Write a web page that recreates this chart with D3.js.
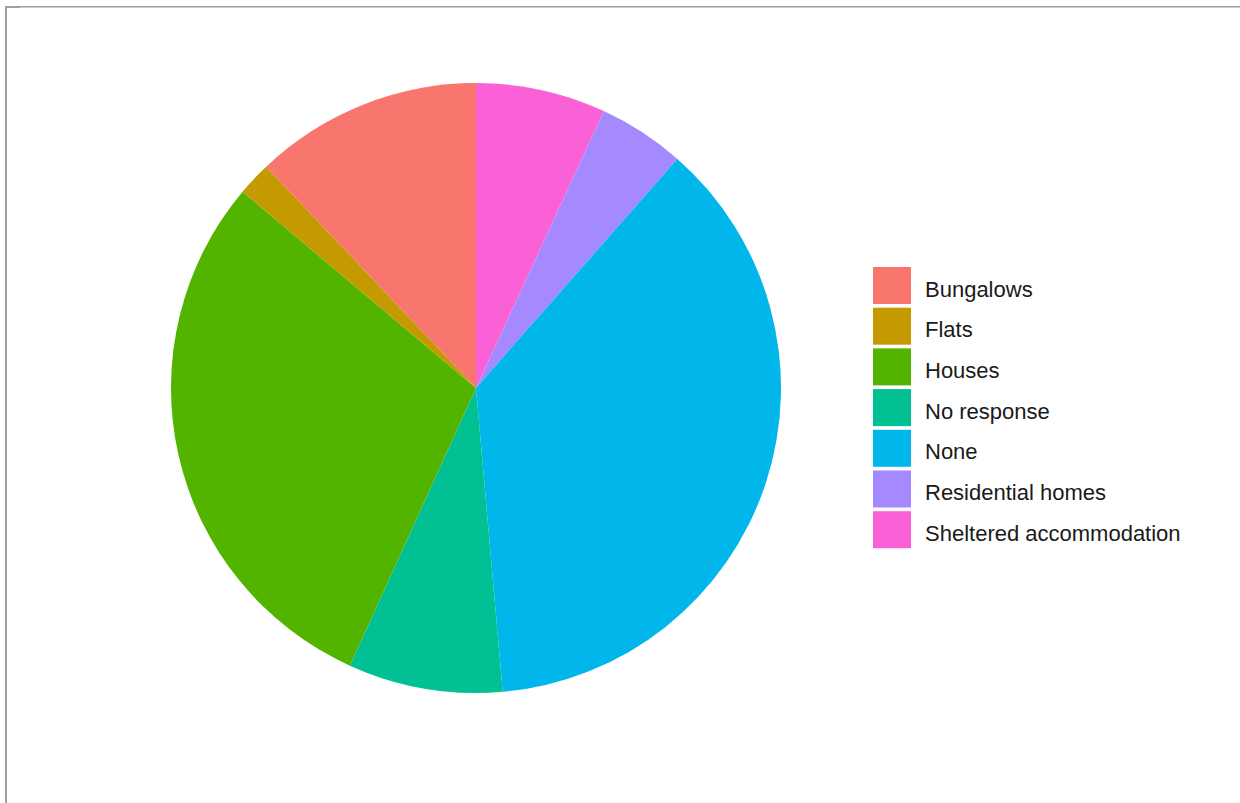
<!DOCTYPE html>
<html>
<head>
<meta charset="utf-8">
<script src="https://cdn.jsdelivr.net/npm/d3@7"></script>
<style>
html, body { margin: 0; padding: 0; background: #fff; }
svg { display: block; }
</style>
</head>
<body>
<svg id="chart" width="1240" height="803"></svg>
<script>
const categories = ["Bungalows", "Flats", "Houses", "No response", "None", "Residential homes", "Sheltered accommodation"];
const values = [12.1, 1.8, 29.4, 8.2, 37.2, 4.6, 6.9];
const colors = ["#F8766D", "#C49A00", "#53B400", "#00C094", "#00B6EB", "#A58AFF", "#FB61D7"];

const svg = d3.select("#chart");

// frame lines
svg.append("rect").attr("x", 5).attr("y", 6).attr("width", 1240).attr("height", 1.5).attr("fill", "#a0a0a0");
svg.append("rect").attr("x", 5).attr("y", 6).attr("width", 2).attr("height", 800).attr("fill", "#a0a0a0");
svg.append("rect").attr("x", 5).attr("y", 6).attr("width", 15).attr("height", 2).attr("fill", "#a0a0a0");

const data = categories.map((c, i) => ({ cat: c, value: values[i] }));
// clockwise from 12 o'clock: reverse level order
const ordered = data.slice().reverse();

const cx = 476, cy = 388, r = 305;
const color = d3.scaleOrdinal().domain(categories).range(colors);

const pie = d3.pie().sort(null).value(d => d.value);
const arc = d3.arc().innerRadius(0).outerRadius(r);

const g = svg.append("g").attr("transform", `translate(${cx},${cy})`);
g.selectAll("path").data(pie(ordered)).join("path")
  .attr("d", arc)
  .attr("fill", d => color(d.data.cat));

// legend
const lx = 873, ly = 267, keyW = 38, keyH = 37, step = 40.7;
const leg = svg.append("g");
const items = leg.selectAll("g").data(categories).join("g")
  .attr("transform", (d, i) => `translate(${lx},${ly + i * step})`);
items.append("rect").attr("width", keyW).attr("height", keyH).attr("fill", d => color(d));
items.append("text")
  .attr("x", 52).attr("y", keyH / 2 + 3.5)
  .attr("dominant-baseline", "central")
  .attr("font-family", "Liberation Sans, Arial, sans-serif")
  .attr("font-size", "22px")
  .attr("fill", "#1a1a1a")
  .text(d => d);
</script>
</body>
</html>
